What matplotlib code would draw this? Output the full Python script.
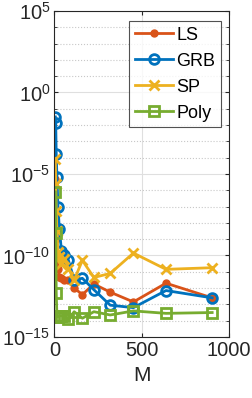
import numpy as np
import matplotlib
matplotlib.use('Agg')
import matplotlib.pyplot as plt
from matplotlib.ticker import NullFormatter, FixedLocator

plt.rcParams['font.family'] = ['Liberation Sans', 'DejaVu Sans']
plt.rcParams['mathtext.fontset'] = 'custom'
plt.rcParams['mathtext.rm'] = 'Liberation Sans'
plt.rcParams['mathtext.it'] = 'Liberation Sans'

# data (log10 of the error)
M = [5, 7, 10, 14, 20, 28, 40, 57, 80, 113, 160, 226, 320, 453, 640, 905]
ls_log = [-5.3, -7.3, -9.0, -10.0, -10.8, -11.3, -11.4, -11.5, -11.5, -12.0, -12.4, -11.75, -12.25, -12.85, -11.7, -12.6]
grb_log = [-1.5, -1.9, -3.8, -5.2, -7.0, -8.4, -9.7, -10.0, -10.3, -11.5, -11.4, -12.1, -13.05, -13.2, -12.15, -12.6]
sp_log = [-4.1, -5.6, -7.3, -8.5, -9.8, -10.1, -10.5, -10.2, -10.8, -11.5, -10.3, -11.35, -11.1, -9.85, -10.85, -10.75]
poly_log = [-6.1, -8.6, -12.3, -13.75, -13.75, -13.7, -13.7, -13.7, -13.9, -13.45, -13.85, -13.45, -13.65, -13.4, -13.55, -13.5]

series = [
    ('LS', ls_log, '#D95319', dict(marker='o', markersize=5, markerfacecolor='#D95319')),
    ('GRB', grb_log, '#0072BD', dict(marker='o', markersize=7, markerfacecolor='none', markeredgewidth=2)),
    ('SP', sp_log, '#EDB120', dict(marker='x', markersize=7, markeredgewidth=2)),
    ('Poly', poly_log, '#77AC30', dict(marker='s', markersize=7, markerfacecolor='none', markeredgewidth=2)),
]

fig = plt.figure(figsize=(2.53, 3.98), dpi=100)
ax = fig.add_axes([0.2154, 0.1533, 0.6886, 0.8191])

for name, vals, col, style in series:
    ax.plot(M, 10.0 ** np.array(vals), color=col, linewidth=2, label=name, **style)

ax.set_yscale('log')
ax.set_ylim(1e-15, 1e5)
ax.set_xlim(0, 1000)
ax.set_xticks([0, 500, 1000])
ax.yaxis.set_major_locator(FixedLocator([1e-15, 1e-10, 1e-5, 1e0, 1e5]))
ax.yaxis.set_minor_locator(FixedLocator([10.0 ** k for k in range(-15, 6) if k % 5 != 0]))
ax.yaxis.set_minor_formatter(NullFormatter())
ax.set_yticklabels([r'$10^{-15}$', r'$10^{-10}$', r'$10^{-5}$', r'$10^{0}$', r'$10^{5}$'])

ax.grid(True, which='major', color='#DFDFDF', linewidth=0.8)
ax.grid(True, which='minor', axis='y', color='#C8C8C8', linestyle=':', linewidth=0.8)
ax.set_axisbelow(True)

ax.tick_params(direction='in', which='both', top=True, right=True, labelsize=14.5, colors='#262626', length=3, pad=3)
ax.tick_params(which='minor', length=2)
for s in ax.spines.values():
    s.set_color('#262626')
    s.set_linewidth(0.8)

ax.set_xlabel('M', fontsize=15, color='#262626', labelpad=4)

leg = ax.legend(loc='upper right', bbox_to_anchor=(0.872, 0.947), bbox_transform=fig.transFigure,
                fontsize=13, frameon=True, fancybox=False,
                edgecolor='#262626', handlelength=2.1, borderpad=0.3,
                labelspacing=0.5, handletextpad=0.2, borderaxespad=0.0)
leg.get_frame().set_linewidth(0.8)

fig.savefig('out.png', dpi=100)
